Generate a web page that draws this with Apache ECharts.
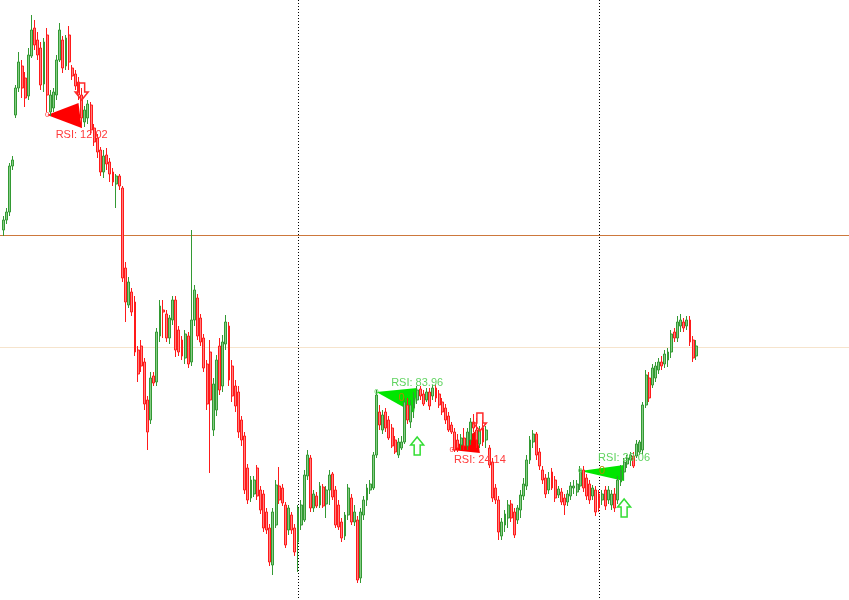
<!DOCTYPE html>
<html>
<head>
<meta charset="utf-8">
<script src="https://cdn.jsdelivr.net/npm/echarts/dist/echarts.min.js"></script>
<style>html,body{margin:0;padding:0;background:#fff}#c{width:849px;height:600px}</style>
</head>
<body>
<div id="c"></div>
<script>
// Price levels on an inverted price scale (0 = top, 600 = bottom).
const open = [230,220,212,166,115,88,66,78,96,56,28,40,48,84,35,112,108,95,60,40,66,35,68,74,82,95,122,118,105,128,138,150,172,155,162,172,184,176,188,268,305,292,302,350,346,362,400,420,376,382,336,310,314,338,320,300,330,340,358,336,362,320,298,318,338,364,352,430,410,346,386,344,326,366,386,392,420,436,468,498,494,468,490,494,512,528,565,525,486,488,505,530,515,528,542,525,520,476,458,508,496,505,487,504,490,474,490,505,522,536,515,498,522,520,578,515,500,490,488,455,412,430,412,420,428,440,455,448,442,405,422,408,400,389,394,400,392,396,388,394,402,408,416,425,432,440,445,438,446,440,422,430,444,428,440,448,462,488,500,536,525,518,504,512,520,510,496,486,460,442,434,452,470,478,490,472,480,495,492,498,502,496,488,492,486,470,478,484,496,490,494,500,490,500,505,494,500,482,472,464,460,456,456,452,450,405,378,385,378,370,362,364,360,352,332,338,326,322,326,320,340,356];
const close = [220,212,166,160,88,62,88,98,55,30,45,55,85,42,95,95,92,60,30,68,38,62,76,86,95,118,110,104,130,142,152,172,156,164,174,182,176,186,278,302,282,312,352,374,366,404,432,378,383,332,306,312,338,318,300,350,352,356,334,364,320,290,336,342,368,404,400,384,360,390,342,322,380,396,406,432,440,490,500,480,480,496,510,528,530,562,512,485,500,503,545,508,530,552,508,505,475,455,508,494,506,486,506,490,475,497,525,527,538,515,488,522,512,580,512,500,488,484,455,395,425,415,428,438,446,452,442,442,402,420,405,398,390,396,404,392,406,388,398,405,412,420,430,432,450,448,438,446,432,422,428,440,430,442,430,465,498,500,532,522,514,505,518,535,508,495,484,460,440,434,455,466,480,494,478,488,498,489,502,505,494,486,486,484,470,488,496,500,488,512,508,494,506,490,494,508,480,470,462,458,455,466,444,442,405,375,398,368,366,362,366,354,352,334,338,322,320,328,320,342,358,346];
const high = [216,208,163,156,85,52,60,72,48,15,20,32,42,38,28,90,88,55,23,36,35,26,65,70,77,88,106,100,102,124,134,147,150,148,158,168,174,174,186,262,277,288,296,346,340,358,396,372,372,328,300,300,310,315,296,296,326,336,330,332,230,285,294,314,334,360,340,378,355,338,335,315,322,360,380,386,416,432,464,476,476,465,486,490,508,524,508,480,467,484,502,505,512,524,505,500,470,450,455,490,492,482,484,486,470,472,486,500,518,512,484,494,505,516,508,496,484,480,452,390,405,410,408,416,424,436,438,436,398,398,400,392,386,386,390,388,388,385,384,390,398,404,412,422,428,434,434,428,428,418,414,418,426,420,426,445,458,484,496,518,510,500,500,508,505,490,478,455,436,430,432,448,466,474,472,468,476,486,488,494,490,482,480,480,466,466,474,480,485,486,490,490,486,486,490,488,476,465,458,455,452,452,440,440,402,370,372,364,362,358,356,350,348,330,328,316,314,318,316,316,336,340];
const low = [236,224,216,170,118,92,98,107,100,58,50,60,90,92,112,116,112,100,62,73,70,70,80,90,100,128,127,124,135,146,158,176,178,170,182,186,208,190,282,322,308,316,356,382,372,410,450,424,386,386,342,338,342,344,325,357,356,360,364,368,366,326,340,346,372,410,473,436,416,395,392,350,386,402,412,438,446,494,504,502,497,500,514,532,534,566,575,528,504,506,548,535,534,556,572,530,522,480,512,512,508,508,508,518,505,500,528,530,542,540,520,525,526,583,583,520,506,494,490,458,430,434,432,440,448,454,458,450,444,424,428,418,404,400,406,402,410,400,402,408,415,424,432,434,452,452,450,450,450,445,432,448,448,446,448,468,502,504,540,540,532,528,522,538,524,518,500,490,464,448,460,470,484,498,494,490,502,498,505,515,506,500,494,496,490,492,500,504,500,516,512,505,510,504,510,512,504,486,480,468,466,468,458,455,454,408,402,388,382,374,370,368,367,358,342,342,332,332,330,346,362,360];

const categoryCount = 270;
const categories = Array.from({ length: categoryCount }, (_, i) => String(i));

// horizontal levels and day separators
const levels = [235, 347];
const levelColors = ['rgb(205,120,60)', 'rgb(246,228,205)'];
const separators = [94, 190];

// annotations: triangles [x1,y1,x2,y2,x3,y3]
const triangles = [
  [14, 115, 24, 103, 25, 128],
  [119, 392, 132, 388, 131, 413],
  [143, 450, 151, 430, 152, 453],
  [184, 471, 198, 465, 198, 481]
];
const triangleColors = ['#ff0000', '#00e600', '#ff0000', '#00e600'];
// arrows [x, tailY, tipY]
const arrows = [
  [25, 83, 100],
  [132, 455, 437],
  [152, 413, 431],
  [198, 517, 499]
];
const arrowColors = ['#ff2a2a', '#33dd33', '#ff2a2a', '#33dd33'];
const rsiPos = [[25, 135], [132, 383], [152, 460], [198, 458]];
const rsiText = ['RSI: 12.02', 'RSI: 83.96', 'RSI: 24.14', 'RSI: 29.06'];
const rsiColors = ['#ff3b3b', '#5fd35f', '#ff3b3b', '#5fd35f'];
const zeroPos = [[14, 115], [119, 392], [127, 398], [143, 450], [184, 471], [191, 471]];
const zeroColors = ['#ff3b3b', '#5fd35f', '#b08a00', '#ff3b3b', '#5fd35f', '#b08a00'];

const candles = open.map((o, i) => [o, close[i], high[i], low[i]]);

const chart = echarts.init(document.getElementById('c'), null, { renderer: 'canvas' });
chart.setOption({
  animation: false,
  backgroundColor: '#ffffff',
  grid: { left: 1.7, right: 0.7, top: 0, bottom: 0 },
  xAxis: {
    type: 'category', data: categories, boundaryGap: true,
    axisLine: { show: false }, axisTick: { show: false }, axisLabel: { show: false }, splitLine: { show: false }
  },
  yAxis: {
    type: 'value', inverse: true, min: 0, max: 600, scale: false,
    axisLine: { show: false }, axisTick: { show: false }, axisLabel: { show: false }, splitLine: { show: false }
  },
  series: [
    {
      type: 'custom', z: 0, silent: true,
      encode: { x: 0, y: 1 },
      data: levels.map(l => [0, l]),
      renderItem: (params, api) => {
        const cs = params.coordSys;
        const y = Math.round(api.coord([0, api.value(1)])[1]);
        return { type: 'rect', shape: { x: 0, y: y, width: cs.x + cs.width + 1, height: 1 }, style: { fill: levelColors[params.dataIndex], stroke: null } };
      }
    },
    {
      type: 'custom', z: 0, silent: true,
      encode: { x: 0, y: 1 },
      data: separators.map(s => [s, 0]),
      renderItem: (params, api) => {
        const cs = params.coordSys;
        const x = Math.round(api.coord([api.value(0), 0])[0]) + 0.5;
        return { type: 'line', shape: { x1: x, y1: cs.y, x2: x, y2: cs.y + cs.height }, style: { stroke: '#000000', lineWidth: 1, lineDash: [1, 2] } };
      }
    },
    {
      type: 'custom', z: 1, silent: true,
      encode: { x: [0, 2, 4], y: [1, 3, 5] },
      data: triangles,
      renderItem: (params, api) => {
        const p1 = api.coord([api.value(0), api.value(1)]);
        const p2 = api.coord([api.value(2), api.value(3)]);
        const p3 = api.coord([api.value(4), api.value(5)]);
        return { type: 'polygon', shape: { points: [p1, p2, p3] }, style: { fill: triangleColors[params.dataIndex] } };
      }
    },
    {
      type: 'candlestick', z: 2,
      data: candles,
      barWidth: 2.4,
      itemStyle: {
        color: '#ff7f7f', borderColor: '#ff1a1a',
        color0: '#86cc86', borderColor0: '#339933',
        borderWidth: 1
      }
    },
    {
      type: 'custom', z: 3, silent: true,
      encode: { x: 0, y: [1, 2] },
      data: arrows,
      renderItem: (params, api) => {
        const tail = api.coord([api.value(0), api.value(1)]);
        const tip = api.coord([api.value(0), api.value(2)]);
        const x = tip[0];
        const len = tip[1] - tail[1];
        const dir = len > 0 ? 1 : -1;
        const headLen = 8 * dir;
        const y0 = tail[1], yh = tip[1] - headLen, y1 = tip[1];
        const pts = [[x - 3, y0], [x + 3, y0], [x + 3, yh], [x + 6.5, yh], [x, y1], [x - 6.5, yh], [x - 3, yh]];
        return { type: 'polygon', shape: { points: pts }, style: { fill: 'rgba(255,255,255,0)', stroke: arrowColors[params.dataIndex], lineWidth: 1.5 } };
      }
    },
    {
      type: 'custom', z: 4, silent: true,
      encode: { x: 0, y: 1 },
      data: rsiPos,
      renderItem: (params, api) => {
        const p = api.coord([api.value(0), api.value(1)]);
        return { type: 'text', x: p[0], y: p[1], style: { text: rsiText[params.dataIndex], fill: rsiColors[params.dataIndex], font: '11px "Liberation Sans", Arial, sans-serif', textAlign: 'center', textVerticalAlign: 'middle' } };
      }
    },
    {
      type: 'custom', z: 4, silent: true,
      encode: { x: 0, y: 1 },
      data: zeroPos,
      renderItem: (params, api) => {
        const p = api.coord([api.value(0), api.value(1)]);
        return { type: 'text', x: p[0], y: p[1], style: { text: '0', fill: zeroColors[params.dataIndex], font: (params.dataIndex === 2 || params.dataIndex === 5 ? '11px' : '8px') + ' "Liberation Sans", Arial, sans-serif', textAlign: 'center', textVerticalAlign: 'middle' } };
      }
    }
  ]
});
</script>
</body>
</html>
